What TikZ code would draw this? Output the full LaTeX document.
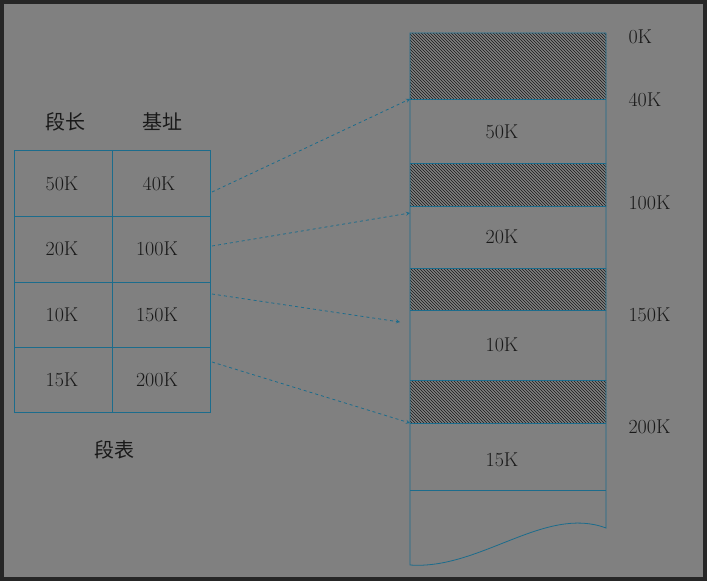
\documentclass[tikz,border=0pt]{standalone}
\usepackage{fontspec}
\newfontfamily\cjk{Noto Sans CJK SC}
\usetikzlibrary{arrows,positioning,patterns}
\definecolor{bggray}{RGB}{128,128,128}
\definecolor{frameblue}{RGB}{28,108,140}
\definecolor{txtdark}{RGB}{25,25,25}
\tikzstyle{arrow} = [thick,dashed,->,>=stealth,color=frameblue]
\tikzstyle{cell} = [font=\fontsize{20}{22}\selectfont,text=txtdark]
\tikzstyle{addrlabel} = [font=\fontsize{20}{22}\selectfont,text=txtdark,anchor=west]

\begin{document}
\begin{tikzpicture}[x=1pt,y=-1pt]
\useasboundingbox (0,0) rectangle (707,581);
\fill[black!85] (0,0) rectangle (707,581);
\fill[bggray] (4,4) rectangle (703,577);
% Segment table
\draw[frameblue, thick] (14,150) rectangle (210,412);
\draw[frameblue, thick] (112,150) -- (112,412);
\foreach \y in {216,282,347} \draw[frameblue, thick] (14,\y) -- (210,\y);
\node[cell] (hlen) at (65,122) {\cjk 段长};
\node[cell] (hbase) at (162,122) {\cjk 基址};
\node[cell] (l1) at (62,184) {50K};  \node[cell] (b1) at (159,184) {40K};
\node[cell] (l2) at (62,249) {20K};  \node[cell] (b2) at (157,249) {100K};
\node[cell] (l3) at (62,315) {10K};  \node[cell] (b3) at (157,315) {150K};
\node[cell] (l4) at (62,380) {15K};  \node[cell] (b4) at (157,380) {200K};
\node[cell] (tab) at (114,450) {\cjk 段表};

% Memory
\foreach \a/\b in {33/99,163/206,268/310,380/423}
  \fill[pattern=north west lines, pattern color=txtdark] (410,\a) rectangle (606,\b);
\draw[frameblue, thick] (410,33) -- (606,33) -- (606,528)
  .. controls (545,505) and (480,570) .. (410,565) -- cycle;
\foreach \y in {99,163,206,268,310,380,423,490} \draw[frameblue, thick] (410,\y) -- (606,\y);
\node[cell] (m1) at (502,132) {50K};
\node[cell] (m2) at (502,237) {20K};
\node[cell] (m3) at (502,345) {10K};
\node[cell] (m4) at (502,460) {15K};
\coordinate (s1) at (212,192);
\coordinate (s2) at (212,246);
\coordinate (s3) at (212,294);
\coordinate (s4) at (212,362);
\coordinate (p1) at (410,99);
\coordinate (p2) at (410,213);
\coordinate (p3) at (400,322);
\coordinate (p4) at (410,423);

\node[addrlabel] (k0) at (625,37) {0K};
\node[addrlabel] (k40) at (625,100) {40K};
\node[addrlabel] (k100) at (625,203) {100K};
\node[addrlabel] (k150) at (625,315) {150K};
\node[addrlabel] (k200) at (625,427) {200K};

% Pointers
\foreach \i in {1,...,4} \draw[arrow] (s\i) -- (p\i);
\end{tikzpicture}
\end{document}
